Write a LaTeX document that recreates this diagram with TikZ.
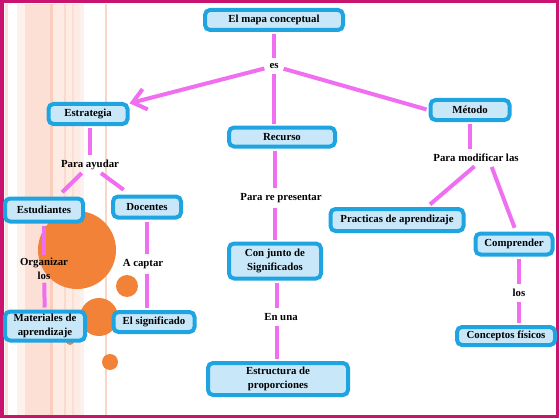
\documentclass[tikz,border=0pt]{standalone}
\usepackage{fontspec}
\setmainfont{Liberation Serif}
\usetikzlibrary{calc,positioning,arrows.meta}
\definecolor{frame}{RGB}{200,20,110}
\definecolor{boxline}{RGB}{30,165,225}
\definecolor{boxfill}{RGB}{200,232,250}
\definecolor{linkpink}{RGB}{240,110,240}
\definecolor{stripe}{RGB}{245,165,135}
\definecolor{dot}{RGB}{242,130,55}

\begin{document}
\begin{tikzpicture}[x=1pt,y=-1pt,
    concept/.style={draw=boxline,fill=boxfill,line width=4pt,rounded corners=5pt,
      font=\fontsize{10.8}{13.5}\selectfont\bfseries,align=center,inner sep=1.5pt},
    linkword/.style={font=\fontsize{10.8}{13.5}\selectfont\bfseries,align=center,inner sep=3pt},
    link/.style={draw=linkpink,line width=4pt,shorten <=2pt,shorten >=2pt}]
    \useasboundingbox (0,0) rectangle (560,420);
    \fill[white] (0,0) rectangle (560,420);
    \fill[stripe!32] (5,4) rectangle (8,415);
    \fill[stripe!16] (17,4) rectangle (25,415);
    \fill[stripe!34] (25,4) rectangle (50,415);
    \fill[stripe!55] (50,4) rectangle (53,415);
    \fill[stripe!22] (53,4) rectangle (80,415);
    \fill[stripe!42] (64,4) rectangle (66,415);
    \fill[stripe!35] (72,4) rectangle (74,415);
    \fill[stripe!15] (80,4) rectangle (84,415);
    \fill[stripe!45] (105,4) rectangle (107,415);
    \fill[dot] (77,250) circle[radius=39pt];
    \fill[dot] (99,317) circle[radius=19pt];
    \fill[dot] (127,286) circle[radius=11pt];
    \fill[dot] (110,362) circle[radius=8pt];
    \fill[dot] (70,341) circle[radius=4pt];
    \draw[frame,line width=3.5pt] (2,1.5) rectangle (557.5,416.5);

    \node[concept,minimum width=138pt,minimum height=20pt] (mapa) at (274,20) {El mapa conceptual};
    \node[concept,minimum width=79pt,minimum height=20pt] (estrategia) at (88,114) {Estrategia};
    \node[concept,minimum width=106pt,minimum height=19pt] (recurso) at (282,137) {Recurso};
    \node[concept,minimum width=79pt,minimum height=20pt] (metodo) at (470,110) {Método};
    \node[concept,minimum width=78pt,minimum height=23pt] (estudiantes) at (44,210) {Estudiantes};
    \node[concept,minimum width=68pt,minimum height=21pt] (docentes) at (147,207) {Docentes};
    \node[concept,minimum width=80pt,minimum height=29pt] (materiales) at (45,326) {Materiales de\\aprendizaje};
    \node[concept,minimum width=81pt,minimum height=20pt] (significado) at (154,322) {El significado};
    \node[concept,minimum width=92pt,minimum height=35pt] (conjunto) at (275,261) {Con junto de\\Significados};
    \node[concept,minimum width=140pt,minimum height=32pt] (estructura) at (278,379) {Estructura de\\proporciones};
    \node[concept,minimum width=133pt,minimum height=22pt] (practicas) at (397,220) {Practicas de aprendizaje};
    \node[concept,minimum width=77pt,minimum height=21pt] (comprender) at (514,244) {Comprender};
    \node[concept,minimum width=98pt,minimum height=18pt] (conceptos) at (506,336) {Conceptos físicos};

    \node[linkword] (es) at (274,66) {es};
    \node[linkword] (ayudar) at (90,165) {Para ayudar};
    \node[linkword] (presentar) at (281,198) {Para re presentar};
    \node[linkword] (modificar) at (476,158) {Para modificar las};
    \node[linkword,inner sep=1pt] (organizar) at (44,269) {Organizar\\los};
    \node[linkword] (captar) at (143,264) {A captar};
    \node[linkword] (enuna) at (281,317) {En una};
    \node[linkword] (los) at (519,293) {los};

    \draw[link] (mapa) -- (es);
    \draw[link,shorten >=0pt,-{Straight Barb[length=13pt,width=21pt]}] (es) -- (estrategia);
    \draw[link] (es) -- (es |- recurso.north);
    \draw[link] (es) -- (metodo.west);
    \draw[link] (ayudar |- estrategia.south) -- (ayudar);
    \draw[link,shorten <=0pt,shorten >=6pt] (ayudar) -- (estudiantes);
    \draw[link,shorten <=0pt,shorten >=8pt] (ayudar) -- (docentes);
    \draw[link] (estudiantes) -- (organizar);
    \draw[link] (organizar) -- (materiales);
    \draw[link] (docentes) -- (docentes |- captar.north);
    \draw[link] (docentes |- captar.south) -- (docentes |- significado.north);
    \draw[link] (conjunto |- recurso.south) -- (conjunto |- presentar.north);
    \draw[link] (conjunto |- presentar.south) -- (conjunto);
    \draw[link] ($(conjunto.south)+(2,0)$) -- ($(conjunto.south |- enuna.north)+(2,0)$);
    \draw[link] ($(conjunto.south |- enuna.south)+(2,0)$) -- ($(conjunto.south |- estructura.north)+(2,0)$);
    \draw[link] (metodo) -- (metodo |- modificar.north);
    \draw[link,shorten >=4pt] (modificar.south) -- ($(practicas.north)+(30,0)$);
    \draw[link,shorten >=4pt] ($(modificar.south)+(15,0)$) -- ($(comprender.north)+(2,0)$);
    \draw[link] (los |- comprender.south) -- (los);
    \draw[link] (los) -- (los |- conceptos.north);
  \end{tikzpicture}
\end{document}
